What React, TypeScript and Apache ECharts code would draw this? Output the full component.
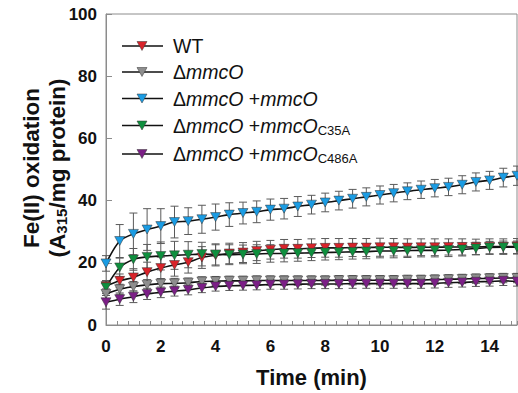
import React, { useEffect, useRef } from "react";
import * as echarts from "echarts";

const FONT = "Arial, 'Liberation Sans', Helvetica, sans-serif";

const TIME = [0, 0.5, 1, 1.5, 2, 2.5, 3, 3.5, 4, 4.5, 5, 5.5, 6, 6.5, 7, 7.5, 8, 8.5, 9, 9.5, 10, 10.5, 11, 11.5, 12, 12.5, 13, 13.5, 14, 14.5, 15];

const WT = [12.5, 14.2, 15.3, 17.0, 18.3, 19.3, 20.2, 21.7, 22.4, 23.0, 23.3, 23.8, 24.2, 24.5, 24.5, 24.7, 24.8, 24.8, 24.9, 24.9, 25.0, 25.0, 24.9, 25.0, 25.0, 25.1, 25.1, 25.1, 25.2, 25.2, 25.3];
const WT_ERR = [1.8, 2.2, 2.8, 3.2, 3.5, 3.6, 3.5, 3.5, 3.4, 3.3, 3.2, 3.1, 3.0, 3.0, 3.0, 3.0, 3.0, 3.0, 2.9, 2.9, 2.9, 2.8, 2.8, 2.7, 2.7, 2.6, 2.6, 2.5, 2.5, 2.5, 2.5];

const DMMCO = [10.0, 11.5, 12.3, 12.9, 13.3, 13.4, 13.6, 14.0, 14.1, 14.2, 14.2, 14.3, 14.3, 14.3, 14.3, 14.3, 14.3, 14.4, 14.4, 14.4, 14.4, 14.4, 14.5, 14.5, 14.6, 14.7, 14.8, 14.9, 15.0, 15.1, 15.1];
const DMMCO_ERR = [1.6, 1.6, 1.7, 1.7, 1.6, 1.6, 1.5, 1.5, 1.5, 1.5, 1.5, 1.5, 1.5, 1.5, 1.5, 1.5, 1.5, 1.5, 1.5, 1.5, 1.5, 1.5, 1.5, 1.5, 1.5, 1.5, 1.5, 1.5, 1.5, 1.5, 1.5];

const COMP = [19.8, 27.0, 29.3, 30.7, 31.8, 33.1, 33.4, 34.0, 34.7, 35.5, 36.0, 36.4, 37.1, 37.4, 38.1, 38.7, 39.4, 40.0, 40.6, 41.2, 41.8, 42.4, 43.0, 43.5, 44.0, 44.4, 45.1, 46.0, 46.5, 47.4, 48.0];
const COMP_ERR = [2.5, 5.3, 6.7, 6.7, 5.6, 5.1, 4.3, 4.5, 4.2, 3.8, 3.5, 3.5, 3.4, 3.3, 3.2, 3.0, 3.0, 3.0, 3.0, 2.9, 2.9, 2.8, 2.7, 2.8, 2.8, 2.8, 2.9, 2.9, 2.9, 3.0, 3.1];

const C35A = [12.1, 18.5, 21.1, 21.9, 22.2, 22.4, 22.6, 22.8, 22.7, 22.6, 22.7, 22.8, 23.0, 23.0, 23.1, 23.2, 23.3, 23.4, 23.5, 23.6, 23.8, 23.8, 23.9, 24.0, 24.0, 24.1, 24.3, 24.6, 24.9, 25.0, 25.0];
const C35A_ERR = [2.0, 3.0, 3.5, 4.0, 4.5, 4.5, 4.2, 3.8, 3.4, 3.2, 3.0, 3.0, 2.8, 2.7, 2.6, 2.5, 2.4, 2.4, 2.3, 2.3, 2.2, 2.2, 2.2, 2.1, 2.1, 2.1, 2.1, 2.0, 2.0, 2.0, 2.0];

const C486A = [7.3, 8.3, 9.1, 10.0, 10.5, 10.9, 11.3, 11.9, 12.4, 12.6, 12.7, 12.8, 13.0, 13.0, 13.1, 13.2, 13.2, 13.2, 13.3, 13.3, 13.3, 13.3, 13.3, 13.3, 13.4, 13.6, 13.7, 13.9, 14.0, 14.2, 14.0];
const C486A_ERR = [2.2, 2.0, 1.9, 1.8, 1.7, 1.6, 1.6, 1.5, 1.5, 1.5, 1.5, 1.5, 1.5, 1.5, 1.5, 1.5, 1.5, 1.5, 1.5, 1.5, 1.5, 1.5, 1.5, 1.5, 1.5, 1.5, 1.5, 1.5, 1.5, 1.5, 1.5];

const LEGEND_LABELS = [
  "WT",
  "Δ{i|mmcO}",
  "Δ{i|mmcO} +{i|mmcO}",
  "Δ{i|mmcO} +{i|mmcO}{s|C35A}",
  "Δ{i|mmcO} +{i|mmcO}{s|C486A}",
];
const NAMES = ["WT", "ΔmmcO", "ΔmmcO +mmcO", "ΔmmcO +mmcO C35A", "ΔmmcO +mmcO C486A"];
const COLORS = ["#d8232a", "#8e8e8e", "#1b9ce3", "#0f8f3e", "#7b1f86"];
const VALUES = [WT, DMMCO, COMP, C35A, C486A];
const ERRORS = [WT_ERR, DMMCO_ERR, COMP_ERR, C35A_ERR, C486A_ERR];
const DRAW_ORDER = [2, 0, 3, 1, 4];

export default function App() {
  const ref = useRef<HTMLDivElement>(null);
  useEffect(() => {
    const chart = echarts.init(ref.current!, null, { renderer: "svg" });
    const series: any[] = [];
    DRAW_ORDER.forEach((k) => {
      const vals = VALUES[k];
      const errs = ERRORS[k];
      series.push({
        type: "custom",
        name: NAMES[k] + " err",
        xAxisIndex: 0,
        yAxisIndex: 0,
        z: 2,
        encode: { x: 0, y: [1, 2] },
        data: TIME.map((t, i) => [t, vals[i] - errs[i], vals[i] + errs[i]]),
        renderItem: (params: any, api: any) => {
          const x = api.value(0);
          const lo = api.coord([x, api.value(1)]);
          const hi = api.coord([x, api.value(2)]);
          const w = 4;
          const st = { stroke: "#5a5a5a", lineWidth: 1 };
          return {
            type: "group",
            children: [
              { type: "line", shape: { x1: lo[0], y1: lo[1], x2: hi[0], y2: hi[1] }, style: st },
              { type: "line", shape: { x1: lo[0] - w, y1: lo[1], x2: lo[0] + w, y2: lo[1] }, style: st },
              { type: "line", shape: { x1: hi[0] - w, y1: hi[1], x2: hi[0] + w, y2: hi[1] }, style: st },
            ],
          };
        },
      });
    });
    DRAW_ORDER.forEach((k) => {
      const vals = VALUES[k];
      series.push({
        type: "line",
        name: NAMES[k],
        xAxisIndex: 0,
        yAxisIndex: 0,
        z: 3,
        data: TIME.map((t, i) => [t, vals[i]]),
        smooth: 0.3,
        symbol: "triangle",
        symbolRotate: 180,
        symbolSize: [10, 9],
        showAllSymbol: true,
        lineStyle: { color: "#111", width: 1.6 },
        itemStyle: { color: COLORS[k], borderColor: "#333", borderWidth: 0.5 },
      });
    });

    const legendGraphics: any[] = [];
    const ys = [46, 72, 98.5, 125.5, 154];
    LEGEND_LABELS.forEach((lab, k) => {
      const y = ys[k];
      legendGraphics.push({ type: "line", shape: { x1: 122, y1: y, x2: 163, y2: y }, style: { stroke: "#111", lineWidth: 1.6 } });
      legendGraphics.push({
        type: "polygon",
        shape: { points: [[137, y - 4.5], [147, y - 4.5], [142, y + 4.5]] },
        style: { fill: COLORS[k], stroke: "#333", lineWidth: 0.5 },
      });
      legendGraphics.push({
        type: "text",
        x: 173,
        y: y,
        style: {
          text: lab,
          fontSize: 19.5,
          fontWeight: "normal",
          fontFamily: FONT,
          fill: "#111",
          align: "left",
          verticalAlign: "middle",
          rich: {
            i: { fontSize: 19.5, fontWeight: "normal", fontStyle: "italic", fontFamily: FONT, fill: "#111" },
            s: { fontSize: 13, fontWeight: "normal", fontFamily: FONT, fill: "#111", verticalAlign: "bottom", padding: [9, 0, 0, 0] },
          },
        },
      });
    });

    const option: any = {
      animation: false,
      backgroundColor: "#fff",
      grid: { left: 106, top: 14, right: 1, bottom: 65, show: true, borderColor: "#8c8c8c", borderWidth: 1 },
      xAxis: [
        {
          type: "value",
          min: 0,
          max: 15,
          interval: 2,
          axisLine: { show: true, lineStyle: { color: "#8c8c8c", width: 1 } },
          axisTick: { show: false },
          splitLine: { show: false },
          axisLabel: { fontSize: 17, fontWeight: "bold", fontFamily: FONT, color: "#111", margin: 13, showMaxLabel: false },
          name: "Time (min)",
          nameLocation: "middle",
          nameGap: 41,
          nameTextStyle: { fontSize: 22, fontWeight: "bold", fontFamily: FONT, color: "#111" },
        },
        {
          type: "value",
          min: 0,
          max: 15,
          interval: 0.4,
          position: "bottom",
          axisLine: { show: false },
          axisTick: { show: true, inside: true, length: 4, lineStyle: { color: "#8c8c8c" } },
          axisLabel: { show: false },
          splitLine: { show: false },
        },
      ],
      yAxis: {
        type: "value",
        min: 0,
        max: 100,
        interval: 20,
        axisLine: { show: true, lineStyle: { color: "#8c8c8c", width: 1 } },
        axisTick: { show: true, inside: true, length: 6, lineStyle: { color: "#8c8c8c" } },
        splitLine: { show: false },
        axisLabel: { fontSize: 17, fontWeight: "bold", fontFamily: FONT, color: "#111", margin: 9 },
      },
      graphic: [
        {
          type: "text",
          x: 44,
          y: 168,
          rotation: Math.PI / 2,
          style: {
            text: "Fe(II) oxidation\n(A{s|315}/mg protein)",
            fontSize: 22.5,
            fontWeight: "bold",
            fontFamily: FONT,
            lineHeight: 26,
            fill: "#111",
            align: "center",
            verticalAlign: "middle",
            rich: {
              s: { fontSize: 15, fontWeight: "bold", fontFamily: FONT, fill: "#111", lineHeight: 26, verticalAlign: "top", padding: [10, 0, 0, 0] },
            },
          },
        },
        ...legendGraphics,
      ],
      series,
    };
    chart.setOption(option);
    return () => chart.dispose();
  }, []);
  return <div ref={ref} style={{ position: "fixed", left: 0, top: 0, width: 518, height: 393 }} />;
}
